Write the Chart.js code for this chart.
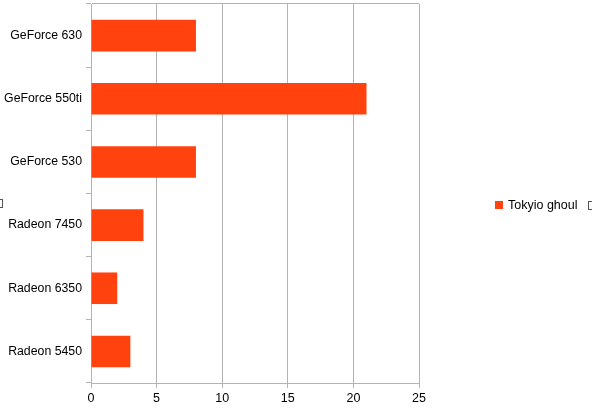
<!DOCTYPE html>
<html>
<head>
<meta charset="utf-8">
<script src="https://cdn.jsdelivr.net/npm/chart.js@4/dist/chart.umd.min.js"></script>
<style>
  html, body { margin: 0; padding: 0; background: #fff; }
  #wrap { position: relative; width: 592px; height: 411px; overflow: hidden; font-family: "Liberation Sans", Arial, sans-serif; }
  #legend { position: absolute; left: 495px; top: 197px; font-size: 12.5px; color: #000; white-space: nowrap; line-height: 16px; }
  #legend .sw { display: inline-block; width: 8px; height: 8px; margin-right: 5px; vertical-align: 0px; }
  .ph { position: absolute; width: 4px; height: 7px; border: 1px solid #555; }
</style>
</head>
<body>
<div id="wrap">
  <canvas id="chart" width="592" height="411"></canvas>
  <div id="legend"></div>
  <span class="ph" style="left:-3px; top:199px;"></span>
  <span class="ph" style="left:588px; top:201px;"></span>
</div>
<script>
// datos del grafico
const categories = ['GeForce 630', 'GeForce 550ti', 'GeForce 530', 'Radeon 7450', 'Radeon 6350', 'Radeon 5450'];
const seriesName = 'Tokyio ghoul';
const values = [8, 21, 8, 4, 2, 3];
const xTicks = [0, 5, 10, 15, 20, 25];
const barColor = '#ff420e';

document.getElementById('legend').innerHTML =
  '<span class="sw" style="background:' + barColor + '"></span>' + seriesName;

const ctx = document.getElementById('chart').getContext('2d');
const chart = new Chart(ctx, {
  type: 'bar',
  data: {
    labels: categories,
    datasets: [{
      label: seriesName,
      data: values,
      backgroundColor: barColor,
      borderWidth: 0,
      barPercentage: 0.5,
      categoryPercentage: 1.0
    }]
  },
  options: {
    indexAxis: 'y',
    responsive: false,
    animation: false,
    layout: { padding: { top: 4, right: 173, bottom: 0, left: 0 } },
    plugins: {
      legend: { display: false },
      tooltip: { enabled: false }
    },
    scales: {
      x: {
        min: xTicks[0],
        max: xTicks[xTicks.length - 1],
        afterBuildTicks: s => { s.ticks = xTicks.map(v => ({ value: v })); },
        afterFit: s => { s.height = 28; },
        grid: { color: '#b3b3b3', tickColor: '#b3b3b3', tickLength: 5 },
        border: { color: '#b3b3b3' },
        ticks: {
          color: '#000',
          padding: 3,
          font: { family: 'Liberation Sans', size: 12.5 }
        }
      },
      y: {
        afterFit: s => { s.width = 91; s.paddingTop = 0; s.paddingBottom = 0; },
        grid: {
          offset: true,
          // solo la linea superior dentro del area
          color: c => c.index === 0 ? '#b3b3b3' : 'rgba(0,0,0,0)',
          tickColor: '#b3b3b3',
          tickLength: 5
        },
        border: { color: '#b3b3b3' },
        ticks: {
          color: '#000',
          padding: 4,
          font: { family: 'Liberation Sans', size: 12.3 }
        }
      }
    }
  }
});
</script>
</body>
</html>
